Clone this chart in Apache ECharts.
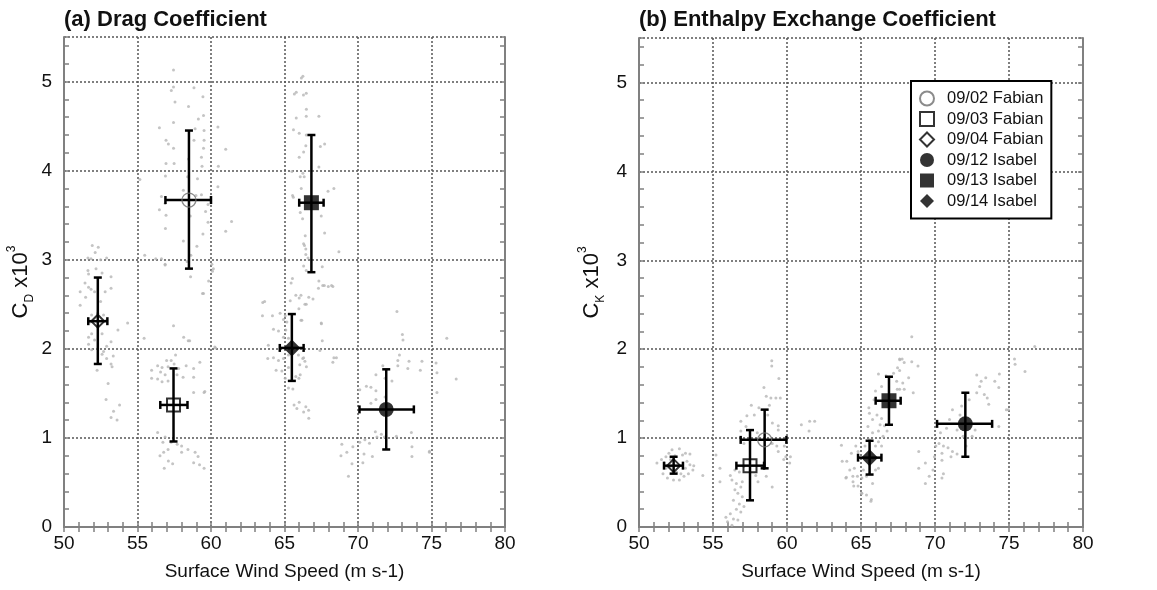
<!DOCTYPE html>
<html>
<head>
<meta charset="utf-8">
<script src="https://cdn.jsdelivr.net/npm/echarts@6/dist/echarts.min.js"></script>
<style>
  html, body { margin: 0; padding: 0; background: #fff; }
  #main { width: 1157px; height: 590px; }
</style>
</head>
<body>
<div id="main"></div>
<script>
// flight days, same order in both panels
var labels = ['09/02 Fabian', '09/03 Fabian', '09/04 Fabian', '09/12 Isabel', '09/13 Isabel', '09/14 Isabel'];

// panel (a) drag coefficient: mean wind, mean Cd, wind range, Cd range
var cdMean = [[58.5, 3.67], [57.45, 1.37], [52.3, 2.31], [71.92, 1.32], [66.83, 3.64], [65.5, 2.01]];
var cdWindRange = [[56.9, 60.0], [56.55, 58.4], [51.65, 52.95], [70.1, 73.8], [66.0, 67.66], [64.68, 66.3]];
var cdRange = [[2.90, 4.45], [0.96, 1.78], [1.83, 2.80], [0.87, 1.77], [2.86, 4.40], [1.64, 2.39]];

// panel (b) enthalpy exchange coefficient
var ckMean = [[58.49, 0.98], [57.5, 0.69], [52.34, 0.69], [72.05, 1.16], [66.89, 1.42], [65.58, 0.78]];
var ckWindRange = [[56.87, 59.96], [56.58, 58.45], [51.69, 52.97], [70.14, 73.86], [65.99, 67.68], [64.8, 66.38]];
var ckRange = [[0.66, 1.32], [0.30, 1.09], [0.60, 0.79], [0.79, 1.51], [1.15, 1.69], [0.59, 0.97]];

// individual estimates (grey dots)
var cdPoints = [
    [51.92,3.16],[52.33,3.14],[52.12,3.08],[51.63,3.02],[51.84,3.01],[52.49,3.00],[52.9,3.02],[52.18,2.90],[51.63,2.88],
    [51.67,2.84],[52.59,2.85],[53.2,2.81],[51.43,2.74],[51.67,2.69],[51.84,2.67],[51.1,2.64],[52.08,2.64],[52.8,2.64],
    [53.2,2.68],[51.47,2.58],[51.1,2.49],[52.49,2.53],[52.29,2.40],[51.88,2.38],[52.69,2.38],[51.78,2.30],[52.9,2.32],
    [54.33,2.29],[53.67,2.21],[51.88,2.17],[51.67,2.13],[52.59,2.17],[53.2,2.08],[52.9,2.03],[52.08,2.10],[51.67,2.05],
    [52.29,2.0],[51.88,1.99],[52.69,1.97],[52.59,1.94],[53.35,1.92],[52.9,1.89],[53.2,1.83],[53.27,1.80],[52.25,1.76],
    [53.0,1.61],[52.86,1.43],[53.78,1.37],[53.37,1.30],[53.2,1.23],[53.61,1.20],
    [57.45,5.13],[57.45,4.94],[57.3,4.90],[58.84,4.93],[57.55,4.77],[59.45,4.83],[58.47,4.72],[59.14,4.58],[59.49,4.62],
    [57.45,4.54],[56.49,4.48],[58.92,4.47],[59.53,4.45],[60.47,4.49],[56.94,4.34],[57.1,4.30],[58.84,4.34],[59.53,4.34],
    [57.45,4.25],[59.49,4.25],[59.35,4.15],[58.47,4.13],[56.94,4.08],[57.49,4.08],[59.39,4.05],[56.9,3.94],[55.16,3.90],
    [58.41,3.93],[59.08,3.91],[60.47,3.82],[58.12,3.78],[58.98,3.72],[59.35,3.73],[56.63,3.71],[56.88,3.63],[59.8,3.62],
    [56.49,3.56],[58.59,3.49],[56.94,3.50],[59.63,3.54],[59.8,3.42],[56.9,3.35],[59.45,3.29],[58.12,3.21],[59.04,3.15],
    [58.63,3.05],[58.37,2.98],[55.49,3.05],[56.24,3.01],[56.63,3.01],[56.88,2.95],[60.06,2.95],[60.16,2.90],
    [61.0,4.24],[60.5,4.05],[61.4,3.43],[61.0,3.32],[56.88,2.94],[58.61,2.81],[59.49,2.62],[59.84,2.76],[60.1,2.87],
    [59.42,2.62],[55.45,2.12],[57.45,2.26],[58.14,2.13],[58.55,2.09],[58.45,2.09],[60.26,2.02],[60.31,2.01],
    [57.59,1.93],[57.29,1.87],[56.98,1.87],[57.49,1.83],[56.37,1.81],[56.67,1.79],[57.08,1.80],[55.96,1.76],[56.57,1.74],
    [56.88,1.71],[57.8,1.78],[58.31,1.81],[58.82,1.78],[59.24,1.85],[55.96,1.67],[56.37,1.66],[56.67,1.63],[57.08,1.64],
    [57.69,1.71],[58.1,1.68],[58.82,1.68],[58.82,1.51],[59.53,1.51],[59.58,1.52],[56.37,1.06],[56.88,1.01],[56.73,0.95],
    [57.29,0.95],[57.7,0.93],[58.0,0.91],[58.43,0.87],[57.08,0.87],[56.78,0.84],[56.53,0.80],[58.0,0.84],[58.92,0.84],
    [59.12,0.79],[58.82,0.72],[59.22,0.70],[59.53,0.66],[57.39,0.71],[56.82,0.66],[57.1,0.74],
    [66.25,5.06],[66.15,5.04],[65.67,4.86],[66.29,4.85],[65.8,4.88],[66.48,4.87],[66.49,4.69],[67.34,4.61],[65.8,4.59],
    [66.48,4.61],[65.61,4.46],[66.0,4.42],[66.48,4.40],[66.45,4.28],[67.73,4.30],[67.44,4.27],[66.3,4.21],[66.0,4.15],
    [67.34,4.04],[65.5,3.99],[66.25,3.97],[66.34,3.93],[66.07,3.93],[66.14,3.80],[68.36,3.80],[67.96,3.77],[65.55,3.72],
    [65.6,3.70],[66.07,3.53],[67.5,3.49],[66.23,3.46],[67.73,3.30],[66.41,3.27],[66.3,3.18],[66.36,3.16],[66.45,3.12],
    [68.7,3.09],[66.45,3.06],[66.6,3.02],[66.3,2.93],[67.57,2.92],[66.48,2.88],[65.54,2.79],[67.34,2.76],[65.45,2.74],
    [67.6,2.71],[68.2,2.71],[65.77,2.60],[66.0,2.57],[65.39,2.54],[66.48,2.50],[63.52,2.52],[63.65,2.53],
    [63.5,2.37],[64.18,2.37],[64.7,2.40],[65.05,2.37],[64.93,2.33],[65.16,2.30],[66.18,2.32],[64.25,2.22],[64.59,2.20],
    [65.09,2.21],[64.93,2.13],[65.27,2.12],[63.9,2.04],[63.86,1.89],[64.25,1.90],[64.59,1.87],[64.93,1.89],[65.27,1.93],
    [65.95,1.93],[66.3,1.90],[64.43,1.76],[64.82,1.75],[65.27,1.79],[65.05,1.67],[65.77,1.69],[66.07,1.71],[65.27,1.56],
    [65.57,1.55],[66.0,1.40],[66.45,1.35],[65.84,1.33],[66.64,1.31],[65.65,1.37],[66.3,1.29],[66.65,1.22],
    [67.31,2.68],[67.71,2.71],[67.98,2.70],[68.29,2.70],[66.12,2.60],[66.65,2.58],[66.94,2.56],[66.39,2.50],[65.98,2.45],
    [66.12,2.32],[67.51,2.28],[67.5,2.29],[67.57,2.09],[67.41,1.98],[66.24,1.89],[66.04,1.82],[66.39,1.86],[66.49,1.80],
    [65.98,1.67],[68.29,1.85],[68.53,1.90],[68.36,1.90],
    [72.65,2.42],[73.02,2.16],[73.06,2.10],[76.04,2.12],[72.82,1.93],[72.71,1.87],[73.47,1.86],[74.35,1.86],[72.71,1.81],
    [73.39,1.78],[74.24,1.76],[75.31,1.84],[75.37,1.73],[75.37,1.51],[71.69,1.81],[71.84,1.67],[72.31,1.64],[71.22,1.71],
    [70.57,1.58],[70.88,1.57],[71.22,1.53],[70.12,1.54],[70.88,1.39],[71.22,1.43],[71.84,1.46],[76.68,1.66],
    [71.18,1.07],[71.59,1.04],[71.8,1.01],[71.29,1.01],[70.47,0.98],[70.78,0.94],[70.12,0.95],[72.61,1.02],[73.63,1.06],
    [68.9,0.93],[69.65,0.90],[69.24,0.84],[70.41,0.82],[70.98,0.79],[70.33,0.72],[68.84,0.80],[69.59,0.71],[69.35,0.57],
    [73.67,0.90],[73.67,0.79],[74.86,0.84],[74.86,0.85]
];

var ckPoints = [
    [51.21,0.72],[51.52,0.76],[51.82,0.79],[52.13,0.76],[52.43,0.80],[52.73,0.88],[52.94,0.81],[53.14,0.83],[53.44,0.82],
    [53.24,0.74],[53.44,0.70],[53.7,0.69],[53.14,0.66],[53.64,0.64],[53.34,0.60],[53.04,0.57],[52.73,0.53],[52.33,0.53],
    [51.92,0.55],[51.62,0.60],[51.82,0.66],[52.13,0.68],[52.53,0.62],[52.83,0.60],[51.72,0.72],[52.02,0.83],[52.23,0.87],
    [54.31,0.58],
    [58.97,1.87],[58.97,1.81],[59.45,1.67],[58.44,1.57],[58.6,1.47],[58.91,1.45],[59.25,1.45],[59.55,1.45],[57.59,1.37],
    [58.1,1.34],[58.81,1.37],[57.29,1.25],[57.79,1.26],[58.7,1.26],[56.88,1.19],[57.23,1.13],[59.01,1.17],[59.41,1.14],
    [56.88,1.08],[57.99,1.06],[59.41,1.09],[56.92,0.98],[57.09,0.94],[59.0,0.94],[59.31,0.91],[59.82,0.91],[59.92,0.79],
    [59.41,0.85],[59.78,0.76],[55.2,0.81],[55.47,0.66],[55.47,0.51],[56.17,0.58],[56.48,0.64],[56.78,0.62],[57.09,0.68],
    [57.89,0.58],[58.04,0.51],[58.6,0.57],[59.0,0.45],[56.28,0.53],[56.58,0.49],[56.98,0.51],[56.88,0.45],[56.48,0.42],
    [56.68,0.38],[56.98,0.34],[56.38,0.30],[56.78,0.26],[57.09,0.23],[56.58,0.20],[56.88,0.17],[56.17,0.15],[55.87,0.11],
    [56.38,0.09],[55.98,0.06],[56.68,0.08],[56.28,0.02],[61.53,1.19],[61.87,1.19],[60.97,1.15],[61.49,1.08],[60.23,0.79],
    [60.18,0.72],
    [68.43,2.14],[67.61,1.89],[67.78,1.89],[67.92,1.85],[68.43,1.86],[67.62,1.88],[68.85,1.81],[67.47,1.79],[67.61,1.76],
    [67.2,1.73],[68.22,1.68],[67.82,1.62],[67.41,1.64],[67.45,1.55],[67.61,1.55],[67.92,1.55],[68.53,1.51],[66.18,1.72],
    [66.69,1.70],[66.39,1.58],[65.98,1.53],[65.88,1.43],[65.53,1.34],[65.57,1.28],[66.08,1.26],[65.78,1.21],[66.39,1.22],
    [66.29,1.15],[66.59,1.14],[66.18,1.08],[66.76,1.08],[66.49,1.02],[66.18,0.96],[65.47,1.13],[65.78,1.06],[65.57,0.98],
    [65.27,0.91],[65.98,0.91],[66.39,0.91],[64.65,0.91],[64.8,0.85],[64.35,0.83],[63.73,0.74],[64.04,0.74],[63.68,0.92],
    [64.24,0.64],[64.55,0.66],[65.16,0.64],[65.57,0.60],[65.98,0.64],[66.18,0.66],[64.45,0.57],[64.76,0.57],[65.06,0.55],
    [65.37,0.57],[63.98,0.55],[65.78,0.49],[64.51,0.46],[64.8,0.46],[65.06,0.38],[65.37,0.36],[65.67,0.29],[64.01,0.56],
    [64.46,0.51],[65.03,0.38],[65.7,0.31],
    [68.9,0.85],[69.35,0.72],[68.9,0.66],[69.35,0.49],[69.61,0.57],[69.96,0.79],[69.86,0.64],[70.06,0.91],[70.47,0.75],
    [70.57,0.60],[70.47,0.55],[70.27,0.94],[70.57,0.91],[70.88,0.89],[71.18,0.85],[71.49,0.82],[71.08,0.79],[70.47,0.83],
    [70.37,1.06],[70.78,1.11],[70.98,1.21],[71.18,1.32],[71.69,1.26],[71.8,1.36],[71.49,1.09],[71.9,1.02],[72.1,0.91],
    [72.71,1.09],[72.51,1.02],[72.31,1.43],[72.82,1.51],[73.02,1.58],[73.12,1.64],[73.33,1.49],[73.53,1.45],[73.63,1.38],
    [72.82,1.71],[73.43,1.68],[74.04,1.64],[74.35,1.72],[74.31,1.57],[74.96,1.32],[74.31,1.13],[74.82,1.32],[75.37,1.89],
    [75.41,1.83],[76.08,1.75],[76.74,2.03]
];

var symbols = ['circle', 'rect', 'diamond', 'circle', 'rect', 'diamond'];
var symbolSizes = [14, 13, 13, 15, 15, 17];
var markerStyles = [
    {color: 'rgba(255,255,255,0)', borderColor: '#6e6e6e', borderWidth: 1.3},
    {color: 'rgba(255,255,255,0)', borderColor: '#000', borderWidth: 2},
    {color: 'rgba(255,255,255,0)', borderColor: '#000', borderWidth: 2},
    {color: '#000'},
    {color: '#000'},
    {color: '#000'}
];

var fontFamily = "'Liberation Sans', Arial, sans-serif";
var frameColor = '#808080';

var chart = echarts.init(document.getElementById('main'));

function renderErrorBar(params, api) {
    var x = api.value(0), y = api.value(1);
    var c = api.coord([x, y]);
    var top = api.coord([x, api.value(5)]);
    var bottom = api.coord([x, api.value(4)]);
    var left = api.coord([api.value(2), y]);
    var right = api.coord([api.value(3), y]);
    var cap = 4;
    var style = {stroke: '#000', lineWidth: 2.5};
    return {
        type: 'group',
        children: [
            {type: 'line', shape: {x1: c[0], y1: top[1], x2: c[0], y2: bottom[1]}, style: style},
            {type: 'line', shape: {x1: c[0] - cap, y1: top[1], x2: c[0] + cap, y2: top[1]}, style: style},
            {type: 'line', shape: {x1: c[0] - cap, y1: bottom[1], x2: c[0] + cap, y2: bottom[1]}, style: style},
            {type: 'line', shape: {x1: left[0], y1: c[1], x2: right[0], y2: c[1]}, style: style},
            {type: 'line', shape: {x1: left[0], y1: c[1] - cap, x2: left[0], y2: c[1] + cap}, style: style},
            {type: 'line', shape: {x1: right[0], y1: c[1] - cap, x2: right[0], y2: c[1] + cap}, style: style}
        ]
    };
}

function xAxes(gridIndex) {
    var base = {
        gridIndex: gridIndex, type: 'value', min: 50, max: 80, interval: 5,
        axisLine: {lineStyle: {color: frameColor, width: 2}},
        axisTick: {inside: true, length: 5, lineStyle: {color: frameColor, width: 1.5}},
        minorTick: {show: true, splitNumber: 5, length: 5, lineStyle: {color: frameColor, width: 1.5}}
    };
    var bottom = echarts.util.merge({
        position: 'bottom',
        name: 'Surface Wind Speed (m s-1)', nameLocation: 'middle', nameGap: 35,
        nameTextStyle: {fontSize: 19, color: '#111', fontFamily: fontFamily},
        axisLabel: {fontSize: 19, color: '#111', margin: 7, fontFamily: fontFamily},
        splitLine: {show: true, lineStyle: {color: '#555', width: 1.5, type: [2, 2]}}
    }, base, true);
    var top = echarts.util.merge({
        position: 'top', axisLabel: {show: false}, splitLine: {show: false}
    }, base, true);
    return [bottom, top];
}

function yAxes(gridIndex, sub, gap) {
    var base = {
        gridIndex: gridIndex, type: 'value', min: 0, max: 5.5, interval: 0.2,
        axisLine: {show: true, lineStyle: {color: frameColor, width: 2}},
        axisTick: {inside: true, length: 5, lineStyle: {color: frameColor, width: 1.5}},
        splitLine: {show: false}
    };
    var left = echarts.util.merge({
        position: 'left',
        name: '{n|C}{s|' + sub + '}{n| x10}{p|3}',
        nameLocation: 'middle', nameRotate: 90, nameGap: gap,
        nameTextStyle: {
            color: '#111', fontFamily: fontFamily,
            rich: {
                n: {fontSize: 22, lineHeight: 30, color: '#111', fontFamily: fontFamily},
                s: {fontSize: 12, lineHeight: 30, verticalAlign: 'bottom', color: '#111', fontFamily: fontFamily},
                p: {fontSize: 12, lineHeight: 30, verticalAlign: 'top', color: '#111', fontFamily: fontFamily}
            }
        },
        axisLabel: {
            fontSize: 19, color: '#111', margin: 12, fontFamily: fontFamily,
            formatter: function (v) {
                return Math.abs(v - Math.round(v)) < 1e-6 && v <= 5 ? String(Math.round(v)) : '';
            }
        }
    }, base, true);
    var right = echarts.util.merge({position: 'right', axisLabel: {show: false}}, base, true);
    var gridLines = {
        gridIndex: gridIndex, type: 'value', min: 0, max: 5.5, interval: 1, position: 'left',
        axisLine: {show: false}, axisTick: {show: false}, axisLabel: {show: false},
        splitLine: {show: true, lineStyle: {color: '#555', width: 1.5, type: [2, 2]}}
    };
    return [left, right, gridLines];
}

function panelSeries(xIndex, yIndex, points, mean, windRange, range) {
    var list = [];
    list.push({
        name: 'dots', type: 'scatter', xAxisIndex: xIndex, yAxisIndex: yIndex,
        symbolSize: 3, silent: true, z: 1,
        itemStyle: {color: '#b5b5b5'},
        data: points
    });
    var bars = [];
    for (var i = 0; i < mean.length; i++) {
        bars.push([mean[i][0], mean[i][1], windRange[i][0], windRange[i][1], range[i][0], range[i][1]]);
    }
    list.push({
        name: 'bars', type: 'custom', xAxisIndex: xIndex, yAxisIndex: yIndex,
        silent: true, z: 2, renderItem: renderErrorBar, data: bars
    });
    for (var j = 0; j < labels.length; j++) {
        list.push({
            name: labels[j], type: 'scatter', xAxisIndex: xIndex, yAxisIndex: yIndex,
            symbol: symbols[j], symbolSize: symbolSizes[j], silent: true, z: 3,
            itemStyle: markerStyles[j],
            data: [mean[j]]
        });
    }
    return list;
}

var option = {
    animation: false,
    backgroundColor: '#fff',
    textStyle: {fontFamily: fontFamily},
    title: [
        {text: '(a) Drag Coefficient', left: 64, top: 9, padding: 0,
            textStyle: {fontSize: 22, fontWeight: 'bold', color: '#111', fontFamily: fontFamily}},
        {text: '(b) Enthalpy Exchange Coefficient', left: 639, top: 9, padding: 0,
            textStyle: {fontSize: 22, fontWeight: 'bold', color: '#111', fontFamily: fontFamily}}
    ],
    legend: {
        data: labels,
        orient: 'vertical',
        left: 911, top: 81,
        padding: [9, 8, 9, 8],
        itemGap: 3.5,
        itemWidth: 14, itemHeight: 14,
        borderColor: '#000', borderWidth: 2,
        backgroundColor: '#fff',
        selectedMode: false,
        textStyle: {fontSize: 16.5, lineHeight: 14, color: '#111', fontFamily: fontFamily, padding: [0, 0, 0, 8]}
    },
    grid: [
        {left: 64, top: 37, width: 441, height: 490},
        {left: 639, top: 38, width: 444, height: 489}
    ],
    xAxis: xAxes(0).concat(xAxes(1)),
    yAxis: yAxes(0, 'D', 28).concat(yAxes(1, 'K', 32)),
    series: panelSeries(0, 0, cdPoints, cdMean, cdWindRange, cdRange)
        .concat(panelSeries(2, 3, ckPoints, ckMean, ckWindRange, ckRange))
};

chart.setOption(option);
</script>
</body>
</html>
